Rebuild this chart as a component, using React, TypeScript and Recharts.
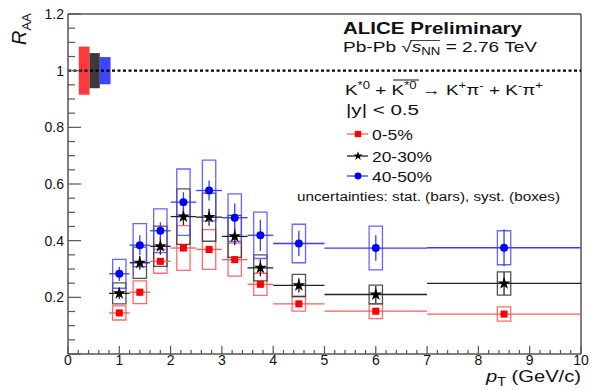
import React from 'react';
import {
  ComposedChart,
  Scatter,
  XAxis,
  YAxis,
  ZAxis,
  ErrorBar,
  ReferenceArea,
  ReferenceLine,
  Symbols,
} from 'recharts';

// pT bins (GeV/c): centres and half widths
const ptCenters = [1.0, 1.4, 1.8, 2.25, 2.75, 3.25, 3.75, 4.5, 6.0, 8.5];
const ptHalfWidths = [0.2, 0.2, 0.2, 0.25, 0.25, 0.25, 0.25, 0.5, 1.0, 1.5];

// 0-5%
const raa0to5 = [0.145, 0.218, 0.327, 0.374, 0.369, 0.333, 0.246, 0.177, 0.151, 0.141];
const stat0to5 = [0.01, 0.012, 0.012, 0.012, 0.012, 0.012, 0.012, 0.01, 0.008, 0.008];
const sys0to5 = [0.025, 0.04, 0.042, 0.079, 0.07, 0.058, 0.039, 0.026, 0.026, 0.025];

// 20-30%
const raa20to30 = [0.214, 0.322, 0.38, 0.485, 0.483, 0.415, 0.304, 0.242, 0.21, 0.249];
const stat20to30 = [0.02, 0.025, 0.03, 0.03, 0.03, 0.03, 0.03, 0.025, 0.03, 0.04];
const sys20to30 = [0.037, 0.055, 0.071, 0.098, 0.085, 0.074, 0.046, 0.039, 0.033, 0.041];

// 40-50%
const raa40to50 = [0.283, 0.384, 0.435, 0.536, 0.577, 0.481, 0.419, 0.39, 0.374, 0.375];
const stat40to50 = [0.025, 0.035, 0.03, 0.035, 0.035, 0.05, 0.055, 0.045, 0.045, 0.065];
const sys40to50 = [0.051, 0.076, 0.077, 0.117, 0.107, 0.084, 0.082, 0.068, 0.077, 0.06];

// normalisation uncertainty boxes around 1
const globalLabels = ['0-5%', '20-30%', '40-50%'];
const globalPtFrom = [0.21, 0.42, 0.62];
const globalPtTo = [0.42, 0.62, 0.83];
const globalSys = [0.085, 0.062, 0.048];

const xMajorTicks = [0, 1, 2, 3, 4, 5, 6, 7, 8, 9, 10];
const yMajorTicks = [0, 0.2, 0.4, 0.6, 0.8, 1.0, 1.2];

const xTicks = xMajorTicks.flatMap((t, i) =>
  i === xMajorTicks.length - 1 ? [t] : [0, 0.2, 0.4, 0.6, 0.8].map((d) => +(t + d).toFixed(2))
);
const yTicks = yMajorTicks.flatMap((t, i) =>
  i === yMajorTicks.length - 1 ? [t] : [0, 0.05, 0.1, 0.15].map((d) => +(t + d).toFixed(2))
);

const SYS_HALF = 0.13;
const FONT = '"Liberation Sans", Arial, Helvetica, sans-serif';

const makeSeries = (vals: number[], stat: number[], sys: number[]) =>
  ptCenters.map((x, i) => ({ x, y: vals[i], ex: ptHalfWidths[i], ey: stat[i], sys: sys[i] }));

const series = [
  { name: '0-5%', data: makeSeries(raa0to5, stat0to5, sys0to5), color: '#ff0000', bar: '#ff5a5a', box: '#ff5050', shape: 'square', legSize: 40 },
  { name: '20-30%', data: makeSeries(raa20to30, stat20to30, sys20to30), color: '#000000', bar: '#222222', box: '#333333', shape: 'star', legSize: 26 },
  { name: '40-50%', data: makeSeries(raa40to50, stat40to50, sys40to50), color: '#0000ff', bar: '#3a3aff', box: '#4a4aff', shape: 'circle', legSize: 38 },
];
const globalColors = ['#ff2828', '#2a2a2a', '#2b35ff'];

const isMultiple = (v: number, step: number) => Math.abs(v / step - Math.round(v / step)) < 1e-6;

const XTick = (props: any) => {
  const { x, y, payload } = props;
  const v = payload.value as number;
  const major = isMultiple(v, 1);
  return (
    <g>
      <line x1={x} x2={x} y1={y} y2={y - (major ? 8 : 4)} stroke="#555" strokeWidth={1.2} />
      {major && (
        <text x={x} y={y + 11} textAnchor="middle" fontSize={14} fontFamily={FONT} fill="#111">
          {Math.round(v)}
        </text>
      )}
    </g>
  );
};

const YTick = (props: any) => {
  const { x, y, payload } = props;
  const v = payload.value as number;
  const major = isMultiple(v, 0.2);
  return (
    <g>
      <line x1={x} x2={x + (major ? 13 : 7)} y1={y} y2={y} stroke="#555" strokeWidth={1.2} />
      {major && v > 0 && (
        <text x={x - 4} y={y + 5} textAnchor="end" fontSize={14} fontFamily={FONT} fill="#111">
          {String(parseFloat(v.toFixed(1)))}
        </text>
      )}
    </g>
  );
};

const App: React.FC = () => {
  return (
    <div style={{ position: 'absolute', left: 0, top: 0, width: 593, height: 390, background: '#fff' }}>
      <ComposedChart width={593} height={390} margin={{ top: 14, right: 12, bottom: 0, left: 0 }}>
        <XAxis
          type="number"
          dataKey="x"
          domain={[0, 10]}
          ticks={xTicks}
          interval={0}
          allowDataOverflow
          tickSize={0}
          tickMargin={0}
          tickLine={false}
          tick={(p: any) => <XTick {...p} />}
          axisLine={{ stroke: '#555', strokeWidth: 1.5 }}
          height={36}
        />
        <YAxis
          type="number"
          dataKey="y"
          domain={[0, 1.2]}
          ticks={yTicks}
          interval={0}
          allowDataOverflow
          tickSize={0}
          tickMargin={0}
          tickLine={false}
          tick={(p: any) => <YTick {...p} />}
          axisLine={{ stroke: '#555', strokeWidth: 1.5 }}
          width={68}
        />
        <ZAxis range={[50, 50]} />
        <ReferenceLine y={1.2} stroke="#555" strokeWidth={1.5} />
        <ReferenceLine x={10} stroke="#555" strokeWidth={1.5} />
        <ReferenceLine y={1} stroke="#000" strokeWidth={2.2} strokeDasharray="3 2.5" />

        {globalLabels.map((lab, i) => (
          <ReferenceArea
            key={'g' + lab}
            x1={globalPtFrom[i]}
            x2={globalPtTo[i]}
            y1={1 - globalSys[i]}
            y2={1 + globalSys[i]}
            fill={globalColors[i]}
            fillOpacity={0.92}
            stroke="none"
          />
        ))}

        {series.flatMap((s) =>
          s.data.map((d, i) => (
            <ReferenceArea
              key={s.name + '-box-' + i}
              x1={d.x - SYS_HALF}
              x2={d.x + SYS_HALF}
              y1={d.y - d.sys}
              y2={d.y + d.sys}
              fill="none"
              stroke={s.box}
              strokeWidth={1.3}
              strokeOpacity={0.85}
            />
          ))
        )}

        {series.map((s) => (
          <Scatter
            key={s.name}
            name={s.name}
            data={s.data}
            dataKey="y"
            fill={s.color}
            shape={s.shape as any}
            legendType="none"
            isAnimationActive={false}
          >
            <ErrorBar dataKey="ex" direction="x" width={0} stroke={s.bar} strokeWidth={1.3} />
            <ErrorBar dataKey="ey" direction="y" width={0} stroke={s.bar} strokeWidth={1.3} />
          </Scatter>
        ))}
      </ComposedChart>

      <svg
        width={593}
        height={390}
        style={{ position: 'absolute', left: 0, top: 0, pointerEvents: 'none' }}
        fontFamily={FONT}
      >
        {/* y axis title */}
        <text transform="translate(26,45) rotate(-90)" fontSize={20} fill="#111">
          <tspan fontStyle="italic">R</tspan>
          <tspan fontSize={13} dy={5}>AA</tspan>
        </text>
        {/* x axis title */}
        <text x={486} y={382} fontSize={17} fill="#111" textLength={95} lengthAdjust="spacingAndGlyphs">
          <tspan fontStyle="italic">p</tspan>
          <tspan fontSize={12} dy={4}>T</tspan>
          <tspan dy={-4}> (GeV/c)</tspan>
        </text>

        <text x={343} y={34} fontSize={16} fontWeight="bold" fill="#111" textLength={179} lengthAdjust="spacingAndGlyphs">
          ALICE Preliminary
        </text>
        <text x={343} y={52} fontSize={14.5} fill="#111" textLength={194} lengthAdjust="spacingAndGlyphs">
          Pb-Pb √<tspan fontStyle="italic">s</tspan>
          <tspan fontSize={10} dy={3}>NN</tspan>
          <tspan dy={-3}> = 2.76 TeV</tspan>
        </text>
        <line x1={410} x2={440} y1={40.5} y2={40.5} stroke="#111" strokeWidth={0.8} />

        <text x={345} y={95} fontSize={14.5} fill="#111" textLength={198} lengthAdjust="spacingAndGlyphs">
          K<tspan fontSize={10} dy={-6}>*0</tspan>
          <tspan dy={6}> + K</tspan>
          <tspan fontSize={10} dy={-6}>*0</tspan>
          <tspan dy={6}> → K</tspan>
          <tspan fontSize={10} dy={-6}>+</tspan>
          <tspan dy={6}>π</tspan>
          <tspan fontSize={10} dy={-6}>-</tspan>
          <tspan dy={6}> + K</tspan>
          <tspan fontSize={10} dy={-6}>-</tspan>
          <tspan dy={6}>π</tspan>
          <tspan fontSize={10} dy={-6}>+</tspan>
        </text>
        <line x1={393} x2={419} y1={80} y2={80} stroke="#111" strokeWidth={1} />

        <text x={346} y={115} fontSize={14.5} fill="#111" textLength={73} lengthAdjust="spacingAndGlyphs">
          |y| &lt; 0.5
        </text>

        {series.map((s, i) => {
          const cy = [134, 156, 176][i];
          return (
            <g key={'leg' + s.name}>
              <line x1={347} x2={368} y1={cy} y2={cy} stroke={s.bar} strokeWidth={1.3} />
              <Symbols cx={358} cy={cy} type={s.shape as any} size={s.legSize} fill={s.color} />
              <text x={372} y={cy + 5.5} fontSize={15} fill="#111" textLength={i === 0 ? 41 : 60} lengthAdjust="spacingAndGlyphs">
                {s.name}
              </text>
            </g>
          );
        })}

        <text x={297} y={201} fontSize={12.5} fill="#111" textLength={263} lengthAdjust="spacingAndGlyphs">
          uncertainties: stat. (bars), syst. (boxes)
        </text>
      </svg>
    </div>
  );
};

export default App;
